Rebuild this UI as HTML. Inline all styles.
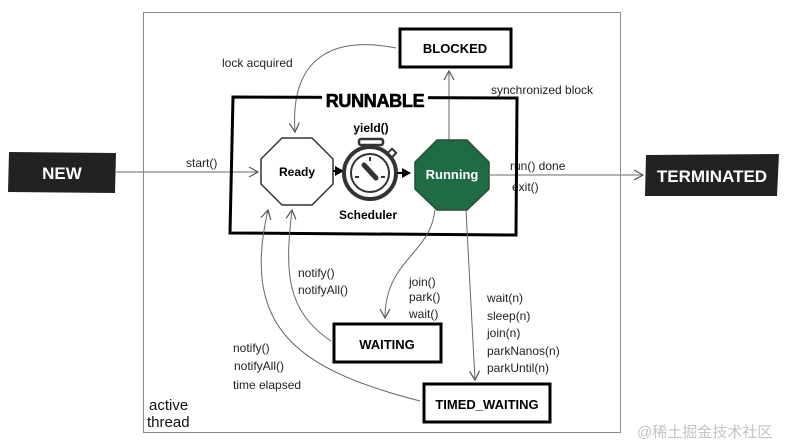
<!DOCTYPE html>
<html><head><meta charset="utf-8"><style>
html,body{margin:0;padding:0;background:#fff;}
svg{display:block;}
text{font-family:"Liberation Sans",Arial,sans-serif;}
</style></head><body>
<svg width="791" height="446" viewBox="0 0 791 446" xmlns="http://www.w3.org/2000/svg">
<defs>
<marker id="a" markerWidth="12" markerHeight="12" refX="10" refY="6" orient="auto" markerUnits="userSpaceOnUse">
<path d="M1,1 L10,6 L1,11" fill="none" stroke="#555" stroke-width="1.2"/></marker>
<marker id="b" markerWidth="10" markerHeight="10" refX="8" refY="5" orient="auto" markerUnits="userSpaceOnUse">
<path d="M0,0 L9,5 L0,10 Z" fill="#000"/></marker>
</defs>
<rect x="143.5" y="12.5" width="477" height="420" fill="none" stroke="#888" stroke-width="1"/>
<polygon points="9,152 116,153 115,193 8,192" fill="#222"/>
<text x="62" y="179" font-size="17" font-weight="bold" fill="#fff" text-anchor="middle">NEW</text>
<polygon points="646,155 779,154 777,196 645,196" fill="#222"/>
<text x="712" y="182" font-size="17" font-weight="bold" fill="#fff" text-anchor="middle">TERMINATED</text>
<line x1="116" y1="172" x2="258" y2="172" stroke="#888" stroke-width="1.3" marker-end="url(#a)"/>
<text x="186" y="167" font-size="12" fill="#222">start()</text>
<line x1="490" y1="175" x2="643" y2="175" stroke="#888" stroke-width="1.3" marker-end="url(#a)"/>
<text x="510" y="170" font-size="12" fill="#222">run() done</text>
<text x="512" y="191" font-size="12" fill="#222">exit()</text>
<line x1="449" y1="140" x2="449" y2="71" stroke="#888" stroke-width="1.3" marker-end="url(#a)"/>
<path d="M396,48 C330,35 290,60 295,132" fill="none" stroke="#666" stroke-width="1" marker-end="url(#a)"/>
<text x="222" y="67" font-size="12" fill="#222">lock acquired</text>
<text x="491" y="94" font-size="12" fill="#222">synchronized block</text>
<rect x="400" y="29" width="111" height="38" fill="#fff" stroke="#000" stroke-width="3"/>
<text x="455" y="53" font-size="13" font-weight="bold" text-anchor="middle">BLOCKED</text>
<polygon points="233,97 517,98 516,235 230,233" fill="none" stroke="#000" stroke-width="3"/>
<rect x="322" y="89" width="106" height="17" fill="#fff"/>
<text x="375" y="107" font-size="18" font-weight="bold" text-anchor="middle" stroke="#000" stroke-width="0.6" letter-spacing="-0.3">RUNNABLE</text>
<polygon points="282,138 312,138 333,159 333,184 312,205 282,205 261,184 261,159" fill="#fff" stroke="#333" stroke-width="1.5"/>
<text x="297" y="176" font-size="12" font-weight="bold" text-anchor="middle">Ready</text>
<line x1="333" y1="171" x2="343" y2="171" stroke="#000" stroke-width="2" marker-end="url(#b)"/>
<text x="371" y="132" font-size="12" font-weight="bold" text-anchor="middle">yield()</text>
<rect x="359" y="139" width="24" height="6" rx="2" fill="#fff" stroke="#333" stroke-width="2.5"/>
<circle cx="370" cy="173" r="26" fill="#fff" stroke="#333" stroke-width="4"/>
<circle cx="370" cy="173" r="19" fill="none" stroke="#333" stroke-width="2"/>
<line x1="364" y1="165" x2="376" y2="178" stroke="#333" stroke-width="5" stroke-linecap="round"/>
<line x1="370" y1="157" x2="370" y2="161" stroke="#333" stroke-width="2"/>
<line x1="355" y1="177" x2="359" y2="177" stroke="#333" stroke-width="2"/>
<line x1="381" y1="177" x2="385" y2="177" stroke="#333" stroke-width="2"/>
<rect x="389" y="150" width="6" height="6" transform="rotate(45 392 153)" fill="#fff" stroke="#333" stroke-width="2"/>
<text x="368" y="219" font-size="12" font-weight="bold" text-anchor="middle">Scheduler</text>
<line x1="397" y1="173" x2="410" y2="173" stroke="#000" stroke-width="2" marker-end="url(#b)"/>
<polygon points="437,140 467,140 489,162 489,189 467,210 437,210 415,189 415,162" fill="#1f6b44" stroke="#2a4d37" stroke-width="1.5"/>
<text x="452" y="179" font-size="13" font-weight="bold" fill="#fff" text-anchor="middle">Running</text>
<path d="M435,210 C430,255 385,260 385,318" fill="none" stroke="#666" stroke-width="1" marker-end="url(#a)"/>
<text x="409" y="286" font-size="12" fill="#222">join()</text>
<text x="409" y="301" font-size="12" fill="#222">park()</text>
<text x="409" y="318" font-size="12" fill="#222">wait()</text>
<line x1="466" y1="210" x2="475" y2="380" stroke="#666" stroke-width="1" marker-end="url(#a)"/>
<text x="487" y="302" font-size="12" fill="#222">wait(n)</text>
<text x="487" y="320" font-size="12" fill="#222">sleep(n)</text>
<text x="487" y="337" font-size="12" fill="#222">join(n)</text>
<text x="487" y="355" font-size="12" fill="#222">parkNanos(n)</text>
<text x="487" y="372" font-size="12" fill="#222">parkUntil(n)</text>
<path d="M331,341 C285,310 285,270 292,210" fill="none" stroke="#666" stroke-width="1" marker-end="url(#a)"/>
<text x="298" y="277" font-size="12" fill="#222">notify()</text>
<text x="298" y="294" font-size="12" fill="#222">notifyAll()</text>
<path d="M420,401 C300,370 240,330 268,210" fill="none" stroke="#666" stroke-width="1" marker-end="url(#a)"/>
<text x="233" y="352" font-size="12" fill="#222">notify()</text>
<text x="234" y="370" font-size="12" fill="#222">notifyAll()</text>
<text x="233" y="389" font-size="12" fill="#222">time elapsed</text>
<rect x="334" y="324" width="107" height="38" fill="#fff" stroke="#000" stroke-width="3"/>
<text x="387" y="349" font-size="13" font-weight="bold" text-anchor="middle">WAITING</text>
<rect x="424" y="384" width="126" height="38" fill="#fff" stroke="#000" stroke-width="3"/>
<text x="487" y="409" font-size="13" font-weight="bold" text-anchor="middle">TIMED_WAITING</text>
<text x="149" y="410" font-size="15" fill="#111" font-family="'DejaVu Sans',sans-serif">active</text>
<text x="147" y="427" font-size="15" fill="#111" font-family="'DejaVu Sans',sans-serif">thread</text>
<text x="637" y="437" font-size="15" fill="#c4c4c4" font-family="'Liberation Sans','Noto Sans CJK SC',sans-serif">@稀土掘金技术社区</text>
</svg>
</body></html>
